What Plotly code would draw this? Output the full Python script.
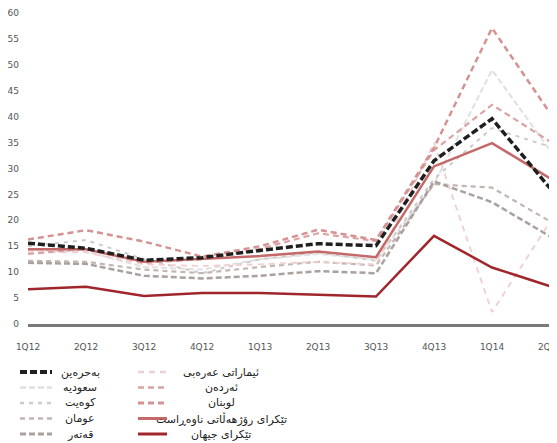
import plotly.graph_objects as go

quarters = ["1Q12", "2Q12", "3Q12", "4Q12", "1Q13", "2Q13", "3Q13", "4Q13", "1Q14", "2Q14"]
y_ticks = [0, 5, 10, 15, 20, 25, 30, 35, 40, 45, 50, 55, 60]

bahrain = [15.6, 14.6, 12.3, 12.8, 14.2, 15.5, 15.1, 31.5, 39.6, 26.2]
saudi = [14.2, 14.0, 11.0, 10.5, 12.5, 13.5, 12.5, 27.0, 49.0, 33.5]
kuwait = [15.0, 16.2, 12.5, 9.8, 12.5, 13.8, 12.2, 28.0, 37.8, 34.2]
oman = [12.2, 12.0, 10.5, 9.8, 11.0, 12.0, 11.3, 27.0, 26.3, 19.8]
qatar = [11.8, 11.6, 9.3, 8.8, 9.3, 10.2, 9.8, 27.5, 23.5, 16.9]
uae = [13.8, 13.8, 11.5, 11.2, 11.5, 12.0, 11.5, 35.0, 2.3, 19.7]
jordan = [13.5, 14.5, 11.8, 12.5, 14.5, 17.5, 16.0, 33.5, 42.3, 35.2]
lebanon = [16.3, 18.1, 15.9, 13.0, 15.0, 18.2, 16.2, 34.0, 57.1, 40.7]
me_avg = [14.4, 14.4, 12.0, 12.5, 13.1, 14.0, 12.9, 30.4, 34.9, 28.1]
world_avg = [6.7, 7.2, 5.4, 6.0, 6.0, 5.7, 5.3, 17.0, 10.9, 7.3]

names = {
    "bahrain": "بەحرەین",
    "saudi": "سعودیە",
    "kuwait": "کوەیت",
    "oman": "عومان",
    "qatar": "قەتەر",
    "uae": "ئیماراتی عەرەبی",
    "jordan": "ئەردەن",
    "lebanon": "لوبنان",
    "me": "تێکرای رۆژهەڵاتی ناوەڕاست",
    "world": "تێکرای جیهان",
}

# key -> (color, width, dash)
styles = {
    "saudi": ("#e0e0e0", 2, "6px,3px"),
    "kuwait": ("#cfcaca", 2, "4px,5px"),
    "oman": ("#c2b6b2", 2.2, "5px,4px"),
    "qatar": ("#a9a19d", 2.5, "6px,3px"),
    "uae": ("#f0cfcf", 1.8, "6px,5px"),
    "jordan": ("#dba3a3", 2.2, "6px,4px"),
    "lebanon": ("#d49292", 2.5, "6px,4px"),
    "me": ("#c46868", 2.5, "solid"),
    "world": ("#a0262c", 2.5, "solid"),
    "bahrain": ("#1f1f1f", 3.5, "7px,3px"),
}
values = {
    "bahrain": bahrain, "saudi": saudi, "kuwait": kuwait, "oman": oman, "qatar": qatar,
    "uae": uae, "jordan": jordan, "lebanon": lebanon, "me": me_avg, "world": world_avg,
}
draw_order = ["saudi", "kuwait", "oman", "qatar", "uae", "jordan", "lebanon", "me", "world", "bahrain"]
legend_left = ["bahrain", "saudi", "kuwait", "oman", "qatar"]
legend_right = ["uae", "jordan", "lebanon", "me", "world"]

# the page body adds an 8px offset
OFF = 8
W, H = 557, 443 - OFF
ML, MT, MB = 20, 5, 119
MR = W - 522 - ML
PW, PH = W - ML - MR, H - MT - MB


def px_x(p):
    # screen pixel -> paper fraction
    return (p - OFF - ML) / PW


def px_y(p):
    return (H - MB - (p - OFF)) / PH


fig = go.Figure()
for key in draw_order:
    color, width, dash = styles[key]
    fig.add_trace(go.Scatter(
        x=quarters, y=values[key], mode="lines", name=names[key],
        line=dict(color=color, width=width, dash=dash), showlegend=False,
    ))

# manual two-column legend
row_y = [372, 387.5, 403, 418.5, 434]
shapes = []
annotations = []
for col_keys, (x0, x1, tx) in ((legend_left, (20, 52, 80)), (legend_right, (138, 167, 221))):
    for key, ry in zip(col_keys, row_y):
        color, width, dash = styles[key]
        shapes.append(dict(
            type="line", xref="paper", yref="paper",
            x0=px_x(x0), x1=px_x(x1), y0=px_y(ry), y1=px_y(ry),
            line=dict(color=color, width=width + 0.5, dash=dash),
        ))
        annotations.append(dict(
            xref="paper", yref="paper", x=px_x(tx), y=px_y(ry),
            text=names[key], showarrow=False, xanchor="center", yanchor="middle",
            font=dict(size=11, color="#222"),
        ))

fig.update_layout(
    width=W, height=H,
    margin=dict(l=ML, r=MR, t=MT, b=MB, autoexpand=False),
    paper_bgcolor="white", plot_bgcolor="white",
    font=dict(family="DejaVu Sans, Noto Sans, sans-serif", size=9, color="#555"),
    showlegend=False,
    shapes=shapes,
    annotations=annotations,
)
fig.update_xaxes(
    type="category", range=[0, 9], showgrid=False, zeroline=False, automargin=False,
    showline=True, linecolor="#7a7a7a", linewidth=2.5,
    ticks="", ticklabelstandoff=12, tickfont=dict(size=9, color="#555"),
)
fig.update_yaxes(
    range=[0, 60], tickvals=y_ticks, showgrid=False, zeroline=False, automargin=False,
    showline=False, ticks="", ticklabelstandoff=8,
    tickfont=dict(size=9, color="#555"),
)

fig.write_html("out.html")
